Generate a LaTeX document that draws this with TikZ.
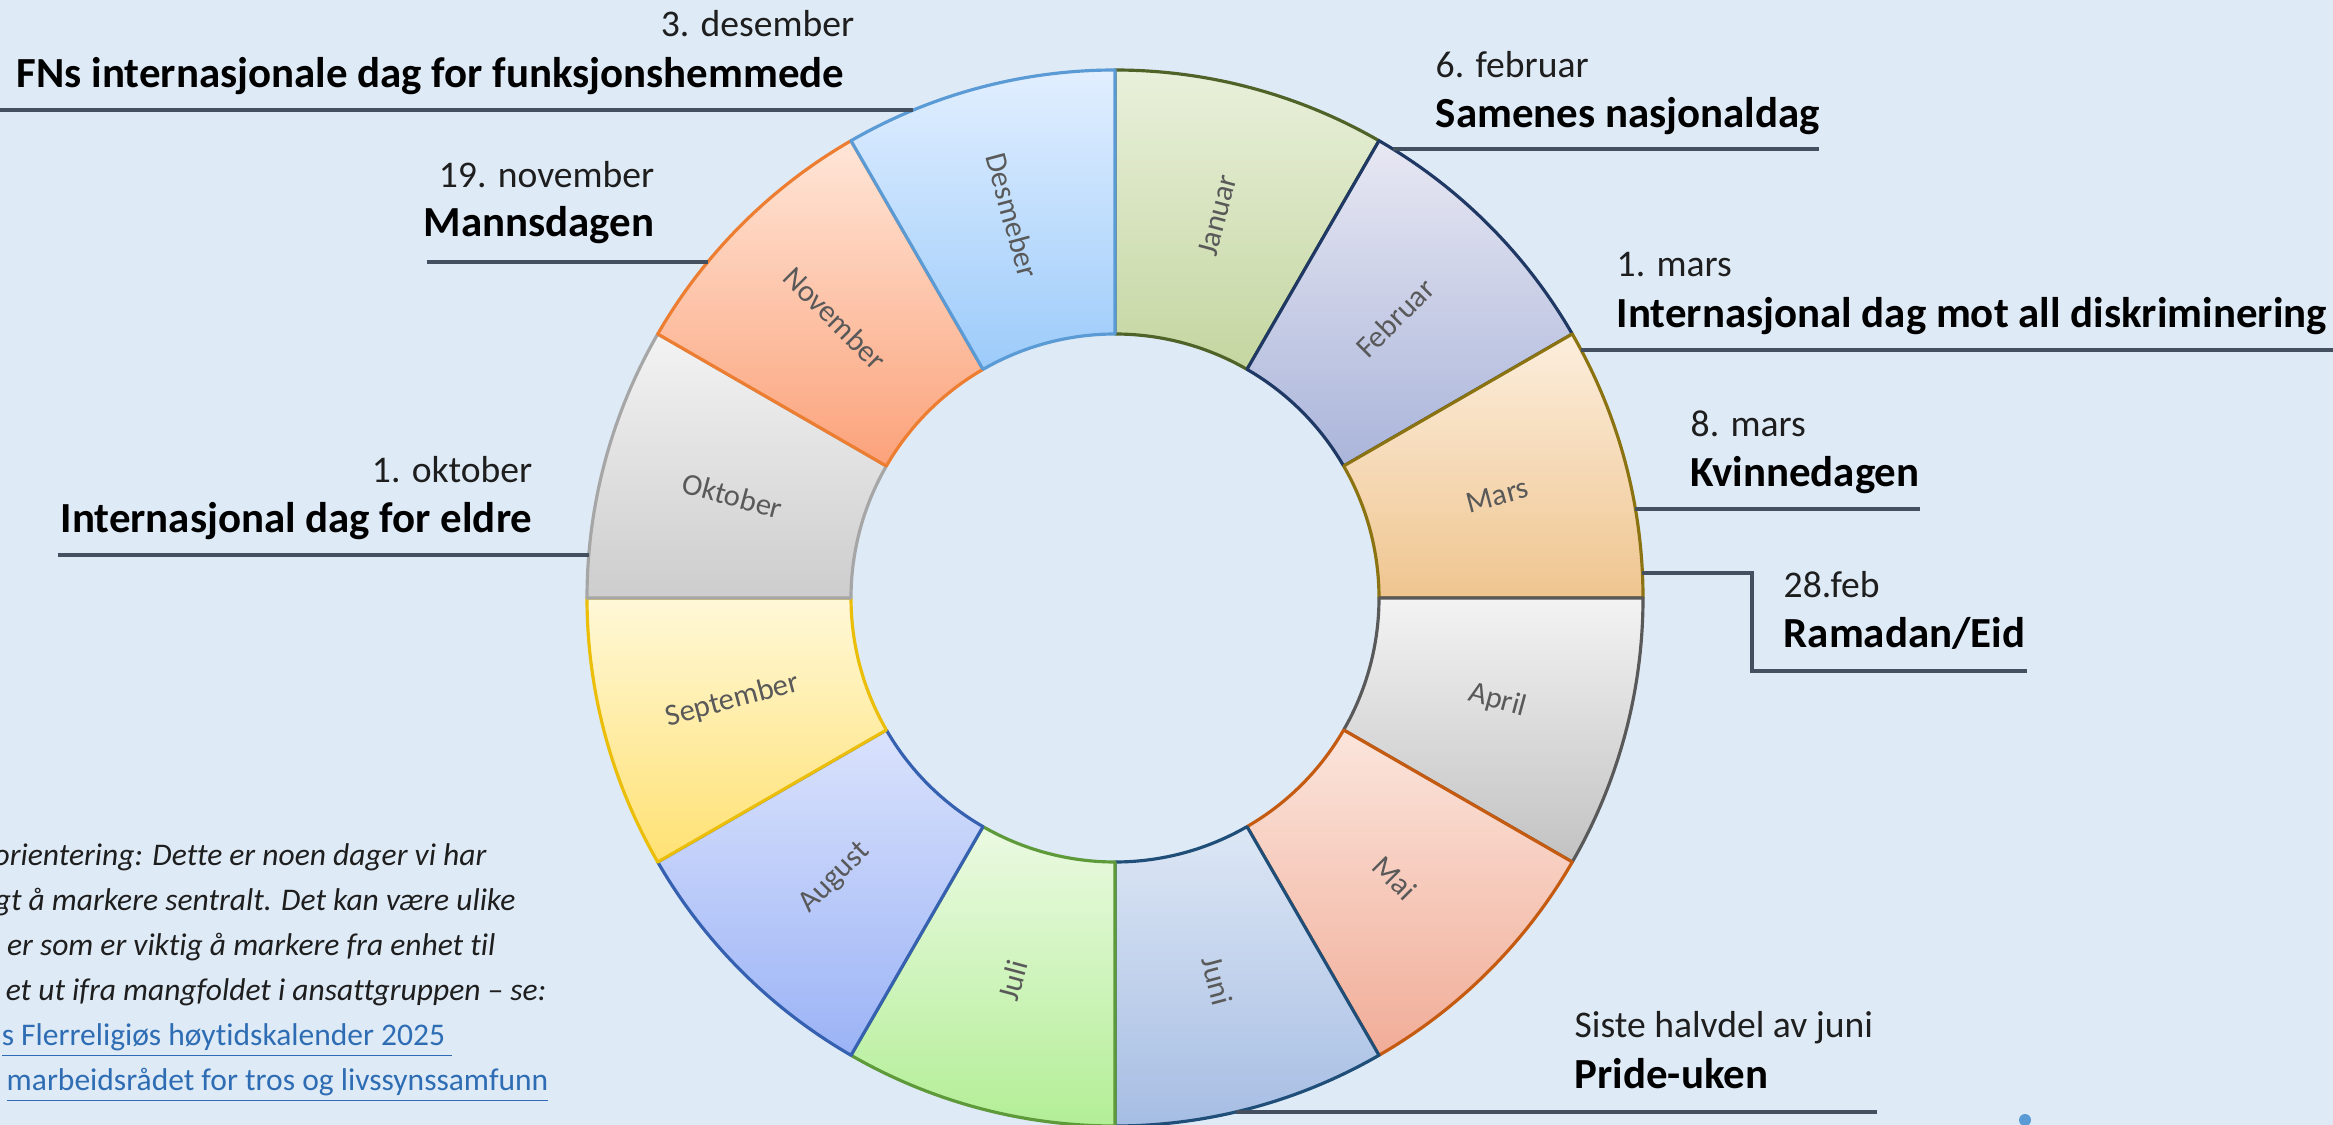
\documentclass[tikz,border=0pt]{standalone}
\usepackage{fontspec}
\setmainfont{Carlito}[Ligatures=NoCommon]
\usepackage{tikz}
\usetikzlibrary{calc}
\definecolor{bgblue}{HTML}{DEEAF6}
\definecolor{ink}{HTML}{1E1E1E}
\definecolor{monthgrey}{HTML}{595959}
\definecolor{leadergrey}{HTML}{44505F}
\definecolor{linkblue}{HTML}{2E6DB4}
\definecolor{dotblue}{HTML}{5B9BD5}
\definecolor{janT}{HTML}{E9F0DB}\definecolor{janB}{HTML}{C4D6A0}\definecolor{janE}{HTML}{4F6228}
\definecolor{febT}{HTML}{E8E8F3}\definecolor{febB}{HTML}{AAB5DA}\definecolor{febE}{HTML}{1F3864}
\definecolor{marT}{HTML}{FCEEDD}\definecolor{marB}{HTML}{EFC58F}\definecolor{marE}{HTML}{8C7311}
\definecolor{aprT}{HTML}{F3F3F3}\definecolor{aprB}{HTML}{C2C2C2}\definecolor{aprE}{HTML}{595959}
\definecolor{maiT}{HTML}{FBE5DC}\definecolor{maiB}{HTML}{F1AD98}\definecolor{maiE}{HTML}{C55A11}
\definecolor{junT}{HTML}{DDE7F5}\definecolor{junB}{HTML}{A6BDE3}\definecolor{junE}{HTML}{1F4E79}
\definecolor{julT}{HTML}{EBFAE2}\definecolor{julB}{HTML}{B3EE96}\definecolor{julE}{HTML}{5E9A3A}
\definecolor{augT}{HTML}{DAE2FC}\definecolor{augB}{HTML}{9BB3F6}\definecolor{augE}{HTML}{3660B0}
\definecolor{sepT}{HTML}{FFF8D8}\definecolor{sepB}{HTML}{FFE173}\definecolor{sepE}{HTML}{EBBE0A}
\definecolor{oktT}{HTML}{F3F3F3}\definecolor{oktB}{HTML}{CDCDCD}\definecolor{oktE}{HTML}{A6A6A6}
\definecolor{novT}{HTML}{FFE6D8}\definecolor{novB}{HTML}{FBA27A}\definecolor{novE}{HTML}{ED7D31}
\definecolor{desT}{HTML}{E2EFFF}\definecolor{desB}{HTML}{9CCBFA}\definecolor{desE}{HTML}{5B9BD5}
\tikzset{
  seg/.style={line width=0.9pt,line join=round},
  monthlbl/.style={font=\fontsize{8.7}{10}\selectfont,text=monthgrey,inner sep=0},
  datelbl/.style={font=\fontsize{10.7}{12}\selectfont,text=ink,inner sep=0},
  daylbl/.style={font=\bfseries\fontsize{12.2}{14}\selectfont,text=black,inner sep=0},
  notelbl/.style={font=\itshape\fontsize{8.96}{11}\selectfont,text=ink,inner sep=0,anchor=base east},
  linklbl/.style={font=\fontsize{8.96}{11}\selectfont,text=linkblue,inner sep=0,anchor=base east},
  leader/.style={draw=leadergrey,line width=1pt}}

\begin{document}
\begin{tikzpicture}[x=0.01cm,y=0.01cm]
  \useasboundingbox (0,0) rectangle (2333,-1125);
  \clip (0,0) rectangle (2333,-1125);
  \fill[bgblue] (0,0) rectangle (2333,-1125);
  \coordinate (hub) at (1115,-598);
  \foreach \m/\c [count=\i from 0] in {Januar/jan,Februar/feb,Mars/mar,April/apr,Mai/mai,Juni/jun,Juli/jul,August/aug,September/sep,Oktober/okt,November/nov,Desmeber/des}{
    \pgfmathsetmacro\sa{90-30*\i}
    \pgfmathsetmacro\sb{\sa-30}
    \pgfmathsetmacro\sm{\sa-15}
    \pgfmathsetmacro\rt{\i<6 ? \sm : \sm+180}
    \draw[seg,draw=\c E,top color=\c T,bottom color=\c B] ($(hub)+(\sa:528)$) arc[start angle=\sa,end angle=\sb,radius=528] -- ($(hub)+(\sb:264)$) arc[start angle=\sb,end angle=\sa,radius=264] -- cycle;
    \node[monthlbl,rotate=\rt] (m\i) at ($(hub)+(\sm:396)$) {\m};}
  % left side
  \node[datelbl,anchor=base east] (fns-date) at (855,-37) {3. desember};
  \node[daylbl,anchor=base east] (fns-day) at (845,-88) {FNs internasjonale dag for funksjonshemmede};
  \coordinate (fns-a) at (0,-110); \coordinate (fns-b) at (913,-110);
  \draw[leader] (fns-a) -- (fns-b);
  \node[datelbl,anchor=base east] (man-date) at (655,-188) {19. november};
  \node[daylbl,anchor=base east] (man-day) at (655,-237) {Mannsdagen};
  \coordinate (man-a) at (427,-262); \coordinate (man-b) at (708,-262);
  \draw[leader] (man-a) -- (man-b);
  \node[datelbl,anchor=base east] (eld-date) at (533,-483) {1. oktober};
  \node[daylbl,anchor=base east] (eld-day) at (533,-533) {Internasjonal dag for eldre};
  \coordinate (eld-a) at (58,-555); \coordinate (eld-b) at (589,-555);
  \draw[leader] (eld-a) -- (eld-b);
  % right side
  \node[datelbl,anchor=base west] (sam-date) at (1435,-78) {6. februar};
  \node[daylbl,anchor=base west] (sam-day) at (1435,-128) {Samenes nasjonaldag};
  \coordinate (sam-a) at (1393,-149); \coordinate (sam-b) at (1819,-149);
  \draw[leader] (sam-a) -- (sam-b);
  \node[datelbl,anchor=base west] (dis-date) at (1616,-277) {1. mars};
  \node[daylbl,anchor=base west] (dis-day) at (1616,-328) {Internasjonal dag mot all diskriminering};
  \coordinate (dis-a) at (1581,-350); \coordinate (dis-b) at (2333,-350);
  \draw[leader] (dis-a) -- (dis-b);
  \node[datelbl,anchor=base west] (kvi-date) at (1690,-437) {8. mars};
  \node[daylbl,anchor=base west] (kvi-day) at (1690,-487) {Kvinnedagen};
  \coordinate (kvi-a) at (1635,-509); \coordinate (kvi-b) at (1920,-509);
  \draw[leader] (kvi-a) -- (kvi-b);
  \node[datelbl,anchor=base west] (ram-date) at (1783,-598) {28.feb};
  \node[daylbl,anchor=base west] (ram-day) at (1783,-648) {Ramadan/Eid};
  \coordinate (ram-a) at (1642,-573); \coordinate (ram-k) at (1752,-573); \coordinate (ram-b) at (2027,-671);
  \draw[leader] (ram-a) -- (ram-k) |- (ram-b);
  \node[datelbl,anchor=base west] (pri-date) at (1574,-1037) {Siste halvdel av juni};
  \node[daylbl,anchor=base west] (pri-day) at (1574,-1088) {Pride-uken};
  \coordinate (pri-a) at (1236,-1112); \coordinate (pri-b) at (1877,-1112);
  \draw[leader] (pri-a) -- (pri-b);
  % note
  \node[notelbl] (note1) at (487,-865) {orientering: Dette er noen dager vi har};
  \node[notelbl] (note2) at (516,-910) {gt å markere sentralt. Det kan være ulike};
  \node[notelbl] (note3) at (496,-955) {er som er viktig å markere fra enhet til};
  \node[notelbl] (note4) at (547,-1000) {et ut ifra mangfoldet i ansattgruppen – se:};
  \node[linklbl] (note5) at (453,-1045) {\underline{s Flerreligiøs høytidskalender 2025\ }};
  \node[linklbl] (note6) at (549,-1090) {\underline{marbeidsrådet for tros og livssynssamfunn}};
  \fill[dotblue] (2025,-1120) circle[radius=6];
\end{tikzpicture}
\end{document}
